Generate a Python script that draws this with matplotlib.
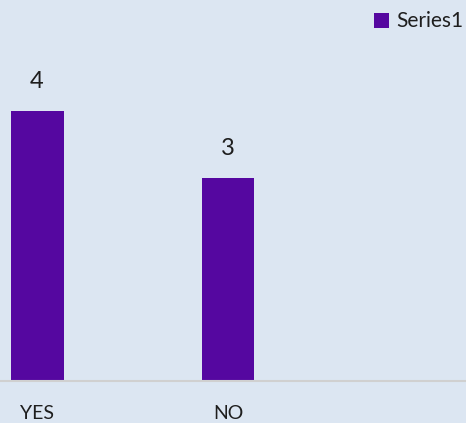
import matplotlib.pyplot as plt

categories = ["YES", "NO"]
values = [4, 3]

bg = "#dce6f2"
bar_color = "#5507a0"
text_color = "#1e1e1e"

plt.rcParams['font.family'] = ['Lato', 'DejaVu Sans']

fig = plt.figure(figsize=(4.66, 4.23), dpi=100, facecolor=bg)
ax = fig.add_axes([0, (423 - 381) / 423, 1, 337.5 / 423])
ax.set_facecolor(bg)

x = list(range(len(categories)))
bars = ax.bar(x, values, width=0.277, color=bar_color, label="Series1")

for xi, v in zip(x, values):
    ax.annotate(str(v), (xi, v), xytext=(0, 14), textcoords="offset points",
                ha="center", va="bottom", fontsize=17, color=text_color)

ax.set_xlim(-0.194, 2.246)
ax.set_ylim(0, 5)
ax.set_xticks(x)
ax.set_xticklabels(categories, fontsize=14, color=text_color)
ax.tick_params(axis="x", length=0, pad=17)
ax.set_yticks([])
for s in ["top", "right", "left"]:
    ax.spines[s].set_visible(False)
ax.spines["bottom"].set_color("#d0d0d0")
ax.spines["bottom"].set_linewidth(1.5)

fig.legend(handles=[bars], labels=["Series1"], loc="upper right",
           bbox_to_anchor=(1.024, 1.005), frameon=False, fontsize=15,
           handlelength=0.75, handleheight=0.75, handletextpad=0.35,
           borderaxespad=0.25, labelcolor=text_color)

fig.savefig("out.png", dpi=100, facecolor=bg)
